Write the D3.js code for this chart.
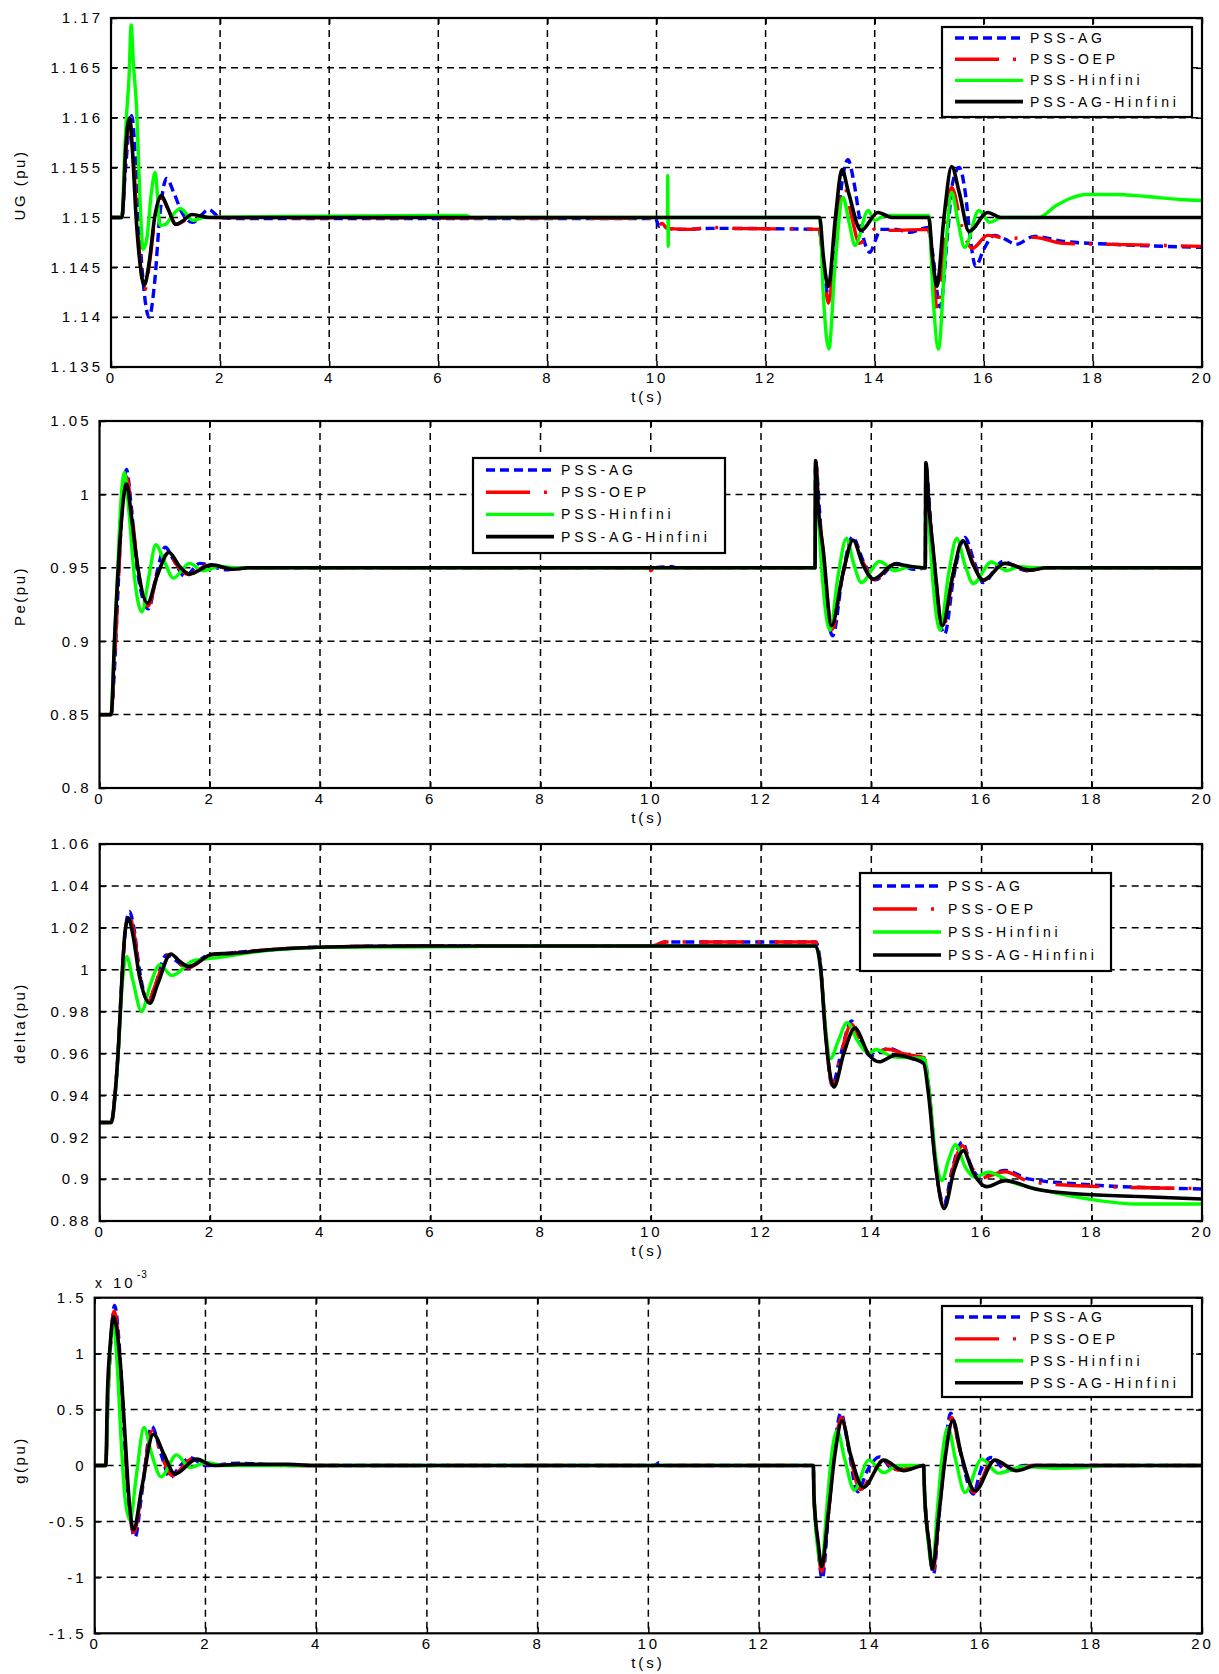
<!DOCTYPE html>
<html>
<head>
<meta charset="utf-8">
<script src="https://cdn.jsdelivr.net/npm/d3@7"></script>
<style>
  html, body { margin: 0; padding: 0; background: #fff; }
  svg text { font-family: "Liberation Sans", Arial, sans-serif; fill: #000; }
</style>
</head>
<body>
<svg id="fig" width="1219" height="1674"></svg>
<script>
// ---- shared axis values ----
const tTicks = [0, 2, 4, 6, 8, 10, 12, 14, 16, 18, 20];
const seriesNames = ["PSS-AG", "PSS-OEP", "PSS-Hinfini", "PSS-AG-Hinfini"];

// ---- generator voltage UG (pu) ----
const ugTicks = [1.135, 1.14, 1.145, 1.15, 1.155, 1.16, 1.165, 1.17];
const ugTickLabels = ["1.135", "1.14", "1.145", "1.15", "1.155", "1.16", "1.165", "1.17"];
const ugAG = [[0,1.15],[0.2,1.15],[0.26,1.1545],[0.38,1.1602],[0.46,1.155],[0.56,1.1455],[0.70,1.140],[0.80,1.1435],[0.9,1.1505],[1.02,1.1539],[1.15,1.1525],[1.3,1.1505],[1.5,1.1495],[1.65,1.1502],[1.79,1.1508],[2.0,1.15],[2.3,1.1499],[6,1.1499],[9.98,1.1499],[10.05,1.1491],[10.12,1.1492],[10.2,1.1489],[10.5,1.1488],[11,1.1489],[12.98,1.1488],[13.05,1.146],[13.16,1.1418],[13.3,1.148],[13.4,1.1535],[13.51,1.1558],[13.62,1.1535],[13.75,1.149],[13.91,1.1465],[14.02,1.1478],[14.1,1.1488],[14.4,1.1488],[14.63,1.1485],[14.98,1.149],[15.06,1.1465],[15.2,1.141],[15.33,1.148],[15.43,1.1535],[15.55,1.155],[15.66,1.1525],[15.75,1.148],[15.85,1.1451],[16.0,1.1468],[16.19,1.1482],[16.4,1.1478],[16.59,1.1473],[16.92,1.1481],[17.46,1.1476],[18.37,1.1473],[20,1.147]];
const ugOEP = [[0,1.15],[0.2,1.15],[0.26,1.1555],[0.34,1.1598],[0.42,1.155],[0.5,1.148],[0.61,1.1426],[0.72,1.146],[0.82,1.1505],[0.92,1.152],[1.05,1.1508],[1.19,1.1493],[1.35,1.1497],[1.5,1.1502],[1.8,1.15],[9.98,1.1499],[10.04,1.1492],[10.1,1.1494],[10.2,1.1489],[10.6,1.1488],[11.0,1.149],[11.4,1.1489],[12.98,1.1488],[13.05,1.146],[13.15,1.1414],[13.28,1.1475],[13.44,1.1531],[13.58,1.150],[13.72,1.1474],[13.9,1.1484],[14.06,1.149],[14.31,1.1487],[14.98,1.1488],[15.05,1.146],[15.15,1.1407],[15.28,1.148],[15.41,1.153],[15.6,1.149],[15.79,1.1469],[16.07,1.1482],[16.44,1.1479],[16.92,1.148],[17.46,1.1474],[18.37,1.1473],[20,1.1471]];
const ugHinf = [[0,1.15],[0.2,1.15],[0.25,1.1565],[0.28,1.1598],[0.33,1.164],[0.37,1.1693],[0.41,1.1655],[0.47,1.1609],[0.53,1.152],[0.59,1.1468],[0.66,1.148],[0.74,1.1525],[0.81,1.1545],[0.9,1.1492],[1.0,1.1493],[1.1,1.150],[1.27,1.1509],[1.51,1.1497],[1.7,1.15],[3,1.1501],[6.5,1.1502],[6.6,1.15],[10.2,1.15],[10.205,1.1542],[10.215,1.1471],[10.22,1.15],[12.99,1.15],[13.06,1.142],[13.16,1.1368],[13.27,1.145],[13.42,1.152],[13.53,1.1495],[13.64,1.1472],[13.88,1.1507],[14.0,1.1497],[14.2,1.1502],[14.99,1.1502],[15.07,1.142],[15.17,1.1368],[15.29,1.146],[15.41,1.1525],[15.53,1.1495],[15.65,1.147],[15.91,1.1507],[16.11,1.1495],[16.33,1.15],[17.0,1.15],[17.33,1.1512],[17.58,1.1519],[17.88,1.1523],[18.37,1.1523],[18.98,1.1521],[19.59,1.1518],[20,1.1517]];
const ugAGHinf = [[0,1.15],[0.2,1.15],[0.23,1.152],[0.26,1.1559],[0.30,1.159],[0.34,1.16],[0.39,1.157],[0.46,1.15],[0.53,1.1455],[0.61,1.1432],[0.7,1.1455],[0.8,1.15],[0.92,1.1522],[1.05,1.1508],[1.19,1.1493],[1.33,1.1497],[1.48,1.1503],[1.8,1.15],[12.99,1.15],[13.06,1.146],[13.15,1.1431],[13.28,1.15],[13.4,1.1548],[13.52,1.1525],[13.75,1.1487],[14.06,1.1505],[14.31,1.15],[14.99,1.15],[15.06,1.146],[15.14,1.1431],[15.27,1.15],[15.41,1.1551],[15.55,1.1525],[15.73,1.1486],[16.07,1.1505],[16.31,1.15],[20,1.15]];

// ---- electrical power Pe (pu) ----
const peTicks = [0.8, 0.85, 0.9, 0.95, 1, 1.05];
const peTickLabels = ["0.8", "0.85", "0.9", "0.95", "1", "1.05"];
const peAG = [[0,0.85],[0.21,0.85],[0.27,0.88],[0.33,0.93],[0.4,0.985],[0.49,1.017],[0.58,0.99],[0.7,0.945],[0.89,0.922],[1.03,0.945],[1.19,0.964],[1.35,0.955],[1.55,0.944],[1.82,0.953],[2.31,0.9487],[2.6,0.95],[9.98,0.95],[10.0,0.9485],[10.05,0.95],[10.4,0.9507],[10.45,0.95],[12.98,0.95],[12.99,1.022],[13.06,0.99],[13.15,0.94],[13.3,0.9037],[13.48,0.945],[13.66,0.971],[13.85,0.955],[14.07,0.9418],[14.46,0.953],[14.77,0.949],[14.98,0.95],[14.99,1.02],[15.06,0.99],[15.16,0.94],[15.33,0.9048],[15.5,0.945],[15.7,0.9707],[15.86,0.955],[16.03,0.94],[16.39,0.9543],[16.82,0.948],[17.1,0.95],[20,0.95]];
const peOEP = [[0,0.85],[0.21,0.85],[0.27,0.885],[0.33,0.93],[0.4,0.985],[0.49,1.012],[0.58,0.99],[0.7,0.948],[0.88,0.924],[1.05,0.945],[1.24,0.961],[1.4,0.952],[1.6,0.9455],[2.0,0.952],[2.4,0.949],[2.7,0.95],[9.98,0.95],[10.0,0.948],[10.05,0.95],[12.98,0.95],[12.99,1.023],[13.05,0.99],[13.13,0.96],[13.29,0.908],[13.48,0.945],[13.67,0.969],[13.85,0.954],[14.05,0.942],[14.44,0.953],[14.75,0.95],[14.98,0.95],[14.99,1.021],[15.05,0.99],[15.13,0.96],[15.3,0.908],[15.48,0.945],[15.67,0.969],[15.85,0.953],[16.03,0.9415],[16.41,0.9535],[16.85,0.9484],[17.15,0.95],[20,0.95]];
const peHinf = [[0,0.85],[0.21,0.85],[0.26,0.89],[0.32,0.94],[0.38,0.99],[0.45,1.015],[0.53,0.99],[0.63,0.945],[0.77,0.92],[0.9,0.945],[1.02,0.9657],[1.17,0.955],[1.34,0.943],[1.63,0.953],[1.88,0.948],[2.19,0.951],[2.5,0.95],[12.98,0.95],[12.99,1.018],[13.04,0.985],[13.12,0.94],[13.25,0.9075],[13.4,0.945],[13.55,0.97],[13.68,0.953],[13.82,0.94],[14.15,0.9543],[14.43,0.948],[14.7,0.9507],[14.98,0.95],[14.99,1.018],[15.04,0.985],[15.12,0.94],[15.25,0.9075],[15.4,0.945],[15.55,0.97],[15.7,0.952],[15.85,0.9393],[16.18,0.954],[16.45,0.948],[16.69,0.9507],[17.0,0.95],[20,0.95]];
const peAGHinf = [[0,0.85],[0.21,0.85],[0.28,0.907],[0.37,0.968],[0.49,1.007],[0.58,0.985],[0.67,0.957],[0.87,0.926],[1.05,0.945],[1.26,0.9605],[1.45,0.951],[1.63,0.9457],[2.03,0.952],[2.43,0.949],[2.7,0.95],[12.98,0.95],[12.99,1.023],[13.04,0.991],[13.13,0.9616],[13.28,0.9105],[13.48,0.945],[13.67,0.9688],[13.85,0.952],[14.04,0.9423],[14.43,0.9525],[14.7,0.951],[14.98,0.95],[14.99,1.0217],[15.05,0.99],[15.13,0.96],[15.29,0.9105],[15.48,0.945],[15.66,0.9684],[15.85,0.952],[16.03,0.9416],[16.42,0.953],[16.88,0.9484],[17.18,0.95],[20,0.95]];

// ---- rotor angle delta (pu) ----
const deltaTicks = [0.88, 0.9, 0.92, 0.94, 0.96, 0.98, 1, 1.02, 1.04, 1.06];
const deltaTickLabels = ["0.88", "0.9", "0.92", "0.94", "0.96", "0.98", "1", "1.02", "1.04", "1.06"];
const deltaAG = [[0,0.927],[0.21,0.927],[0.28,0.941],[0.34,0.963],[0.40,0.995],[0.47,1.02],[0.54,1.0278],[0.62,1.02],[0.72,1.0],[0.88,0.9847],[1.0,0.992],[1.21,1.007],[1.4,1.004],[1.58,1.0007],[1.94,1.0066],[2.2,1.0075],[3.03,1.0094],[3.93,1.0107],[5.8,1.0113],[10.0,1.0113],[10.1,1.0118],[10.25,1.0132],[12.99,1.0132],[13.08,1.002],[13.17,0.97],[13.29,0.9448],[13.45,0.96],[13.64,0.9755],[13.8,0.966],[13.98,0.959],[14.32,0.9624],[14.63,0.9592],[14.96,0.9576],[15.05,0.942],[15.17,0.906],[15.32,0.8881],[15.47,0.905],[15.65,0.9177],[15.8,0.907],[15.97,0.9009],[16.43,0.9041],[16.85,0.9001],[17.76,0.8977],[20,0.8953]];
const deltaOEP = [[0,0.927],[0.21,0.927],[0.28,0.941],[0.34,0.963],[0.40,0.995],[0.47,1.02],[0.53,1.026],[0.62,1.018],[0.72,0.999],[0.89,0.985],[1.0,0.992],[1.25,1.007],[1.4,1.004],[1.6,1.001],[2.0,1.0068],[2.2,1.0075],[3.03,1.0094],[3.93,1.0107],[5.8,1.0113],[10.0,1.0113],[10.1,1.0118],[10.25,1.0132],[12.99,1.0132],[13.08,1.002],[13.17,0.97],[13.3,0.9445],[13.45,0.96],[13.64,0.974],[13.8,0.966],[13.98,0.96],[14.3,0.962],[14.63,0.9595],[14.96,0.958],[15.05,0.942],[15.17,0.906],[15.32,0.887],[15.47,0.904],[15.66,0.916],[15.8,0.907],[15.97,0.9005],[16.43,0.9035],[16.85,0.899],[17.76,0.8968],[20,0.8955]];
const deltaHinf = [[0,0.927],[0.21,0.927],[0.28,0.94],[0.34,0.962],[0.40,0.99],[0.49,1.0062],[0.6,0.995],[0.76,0.98],[0.92,0.993],[1.09,1.0023],[1.31,0.9972],[1.7,1.0043],[2.06,1.0055],[3.03,1.0091],[4.24,1.0107],[6.8,1.011],[7.0,1.0113],[12.99,1.0113],[13.08,1.0],[13.17,0.972],[13.26,0.9576],[13.4,0.966],[13.56,0.9747],[13.75,0.966],[13.96,0.96],[14.08,0.9619],[14.4,0.9584],[14.96,0.9576],[15.05,0.942],[15.17,0.91],[15.28,0.8993],[15.4,0.909],[15.53,0.9164],[15.7,0.906],[15.88,0.9009],[16.12,0.9033],[16.55,0.8985],[17.15,0.8945],[17.94,0.8905],[18.85,0.8881],[20,0.8881]];
const deltaAGHinf = [[0,0.927],[0.21,0.927],[0.28,0.9409],[0.34,0.9632],[0.40,0.9935],[0.46,1.018],[0.52,1.0246],[0.6,1.017],[0.72,0.997],[0.91,0.984],[1.05,0.993],[1.29,1.0075],[1.45,1.004],[1.61,1.0015],[2.06,1.0075],[2.42,1.0078],[3.03,1.0094],[3.93,1.0107],[5.81,1.0113],[12.99,1.0113],[13.08,1.0006],[13.17,0.9688],[13.32,0.944],[13.5,0.96],[13.7,0.972],[13.96,0.9592],[14.14,0.956],[14.44,0.9592],[14.74,0.9576],[14.95,0.9552],[15.04,0.94],[15.16,0.9081],[15.32,0.886],[15.5,0.904],[15.67,0.9136],[15.85,0.903],[16.09,0.8964],[16.43,0.8993],[16.97,0.8953],[17.76,0.8929],[18.97,0.8916],[20,0.8905]];

// ---- speed deviation g (pu, x 10^-3) ----
const gTicks = [-1.5, -1, -0.5, 0, 0.5, 1, 1.5];
const gTickLabels = ["-1.5", "-1", "-0.5", "0", "0.5", "1", "1.5"];
const gAG = [[0,0],[0.2,0],[0.24,0.6],[0.29,1.1],[0.36,1.43],[0.44,1.1],[0.52,0.4],[0.6,-0.25],[0.73,-0.64],[0.85,-0.25],[1.03,0.35],[1.2,0.1],[1.36,-0.107],[1.55,0.0],[1.72,0.07],[2.0,0.0],[2.6,0.02],[3.5,0.0],[10.1,0],[10.2,0.025],[10.3,0.0],[12.98,0],[12.99,-0.25],[13.06,-0.7],[13.14,-1.01],[13.25,-0.45],[13.35,0.1],[13.48,0.47],[13.6,0.2],[13.78,-0.235],[13.95,-0.05],[14.18,0.077],[14.42,-0.033],[14.7,-0.03],[14.97,0],[14.99,-0.25],[15.07,-0.7],[15.15,-0.97],[15.25,-0.45],[15.35,0.1],[15.46,0.467],[15.6,0.2],[15.87,-0.256],[16.0,-0.05],[16.2,0.071],[16.47,-0.047],[16.8,0],[20,0]];
const gOEP = [[0,0],[0.2,0],[0.24,0.62],[0.29,1.1],[0.35,1.38],[0.45,1.0],[0.53,0.35],[0.6,-0.25],[0.71,-0.6],[0.85,-0.22],[1.04,0.31],[1.2,0.1],[1.4,-0.09],[1.78,0.065],[2.1,0],[2.6,0.01],[3.5,0],[10.1,0],[10.2,0.02],[10.35,0],[12.98,0],[12.99,-0.25],[13.06,-0.7],[13.13,-0.95],[13.25,-0.44],[13.36,0.1],[13.49,0.43],[13.62,0.15],[13.83,-0.215],[14.2,0.06],[14.5,-0.04],[14.97,0],[14.99,-0.25],[15.07,-0.7],[15.14,-0.95],[15.25,-0.44],[15.36,0.1],[15.48,0.43],[15.62,0.15],[15.88,-0.24],[16.23,0.06],[16.55,-0.045],[16.9,0],[20,0]];
const gHinf = [[0,0],[0.2,0],[0.24,0.6],[0.28,1.05],[0.33,1.29],[0.4,0.95],[0.48,0.2],[0.55,-0.3],[0.64,-0.49],[0.75,-0.1],[0.89,0.34],[1.03,0.1],[1.2,-0.1],[1.48,0.095],[1.72,-0.018],[2.02,0.027],[2.3,0],[12.98,0],[12.99,-0.25],[13.05,-0.7],[13.13,-0.9],[13.22,-0.4],[13.3,0.05],[13.41,0.31],[13.55,0.05],[13.72,-0.22],[13.98,0.048],[14.25,-0.063],[14.5,0],[14.97,0],[14.99,-0.25],[15.06,-0.7],[15.13,-0.92],[15.22,-0.4],[15.3,0.05],[15.41,0.34],[15.55,0.05],[15.72,-0.24],[16.02,0.057],[16.32,-0.068],[16.77,-0.01],[17.32,-0.024],[17.8,-0.02],[18.3,0],[20,0]];
const gAGHinf = [[0,0],[0.2,0],[0.23,0.64],[0.28,1.08],[0.34,1.33],[0.46,0.93],[0.55,0.25],[0.62,-0.3],[0.7,-0.577],[0.85,-0.2],[1.06,0.28],[1.25,0.1],[1.45,-0.077],[1.84,0.057],[2.14,0],[2.6,0.01],[3.5,0.01],[4,0],[12.98,0],[12.99,-0.256],[13.07,-0.7],[13.13,-0.905],[13.25,-0.43],[13.37,0.1],[13.5,0.4],[13.65,0.1],[13.88,-0.196],[14.25,0.048],[14.61,-0.047],[14.97,0],[14.99,-0.26],[15.07,-0.7],[15.13,-0.925],[15.25,-0.43],[15.37,0.1],[15.5,0.405],[15.65,0.1],[15.9,-0.226],[16.26,0.048],[16.65,-0.047],[17.0,0],[20,0]];

// ---- drawing ----
const svg = d3.select("#fig");
svg.append("rect").attr("width", 1219).attr("height", 1674).attr("fill", "#fff");

// line styles for the four controllers, in legend order
const styles = [
  { color: "#0000ff", dash: "9,5", width: 3.4 },
  { color: "#ff0000", dash: "44,14,3,14", width: 3.4 },
  { color: "#00ff00", dash: null, width: 3.4 },
  { color: "#000000", dash: null, width: 3.6 }
];

function drawPanel(p) {
  const x = d3.scaleLinear().domain([0, 20]).range([p.left, p.right]);
  const y = d3.scaleLinear().domain([p.ticks[0], p.ticks[p.ticks.length - 1]]).range([p.bottom, p.top]);
  const g = svg.append("g");

  // dashed grid
  const grid = g.append("g").attr("stroke", "#000").attr("stroke-width", 1.5).attr("stroke-dasharray", "7,5");
  grid.selectAll("line.v").data(tTicks.slice(1, -1)).join("line").attr("class", "v")
    .attr("x1", d => x(d)).attr("x2", d => x(d)).attr("y1", p.top).attr("y2", p.bottom);
  grid.selectAll("line.h").data(p.ticks.slice(1, -1)).join("line").attr("class", "h")
    .attr("x1", p.left).attr("x2", p.right).attr("y1", d => y(d)).attr("y2", d => y(d));

  // curves
  const line = d3.line().x(d => x(d[0])).y(d => y(d[1])).curve(d3.curveMonotoneX);
  p.series.forEach((s, i) => {
    const st = styles[i];
    g.append("path").attr("d", line(s)).attr("fill", "none")
      .attr("stroke", st.color).attr("stroke-width", st.width)
      .attr("stroke-linejoin", "round")
      .attr("stroke-dasharray", st.dash);
  });

  // axes with inward ticks on all four sides
  const fmt = d => p.labels[p.ticks.indexOf(d)];
  g.append("g").attr("transform", `translate(0,${p.bottom})`)
    .call(d3.axisBottom(x).tickValues(tTicks).tickSizeInner(-6).tickSizeOuter(0).tickPadding(5));
  g.append("g").attr("transform", `translate(${p.left},0)`)
    .call(d3.axisLeft(y).tickValues(p.ticks).tickFormat(fmt).tickSizeInner(-6).tickSizeOuter(0).tickPadding(8));
  g.append("g").attr("transform", `translate(0,${p.top})`)
    .call(d3.axisTop(x).tickValues(tTicks).tickFormat("").tickSizeInner(-6).tickSizeOuter(0));
  g.append("g").attr("transform", `translate(${p.right},0)`)
    .call(d3.axisRight(y).tickValues(p.ticks).tickFormat("").tickSizeInner(-6).tickSizeOuter(0));
  g.selectAll(".domain").remove();
  g.selectAll(".tick line").attr("stroke", "#000").attr("stroke-width", 1.5);
  g.selectAll(".tick text").attr("font-size", 15).attr("letter-spacing", 3)
    .attr("font-family", '"Liberation Sans", Arial, sans-serif').attr("fill", "#000");

  // frame
  g.append("rect").attr("x", p.left).attr("y", p.top)
    .attr("width", p.right - p.left).attr("height", p.bottom - p.top)
    .attr("fill", "none").attr("stroke", "#000").attr("stroke-width", 2.2);

  // axis titles
  g.append("text").attr("x", 648).attr("y", p.bottom + 35).attr("text-anchor", "middle")
    .attr("font-size", 15).attr("letter-spacing", 3).text("t(s)");
  g.append("text").attr("transform", `translate(19,${p.yTitleY}) rotate(-90)`)
    .attr("text-anchor", "middle").attr("dominant-baseline", "central")
    .attr("font-size", 15).attr("letter-spacing", 2.5).text(p.yTitle);

  // legend
  const L = p.legend;
  const lg = g.append("g");
  lg.append("rect").attr("x", L.x).attr("y", L.y).attr("width", L.w).attr("height", L.h)
    .attr("fill", "#fff").attr("stroke", "#000").attr("stroke-width", 2.2);
  seriesNames.forEach((name, i) => {
    const cy = L.y + L.row0 + i * L.step;
    const st = styles[i];
    lg.append("line").attr("x1", L.x + 13).attr("x2", L.x + 81).attr("y1", cy).attr("y2", cy)
      .attr("stroke", st.color).attr("stroke-width", st.width).attr("stroke-dasharray", st.dash);
    lg.append("text").attr("x", L.x + 88).attr("y", cy + 5).attr("font-size", 14)
      .attr("letter-spacing", 3.8).text(name);
  });
  return { x, y, g };
}

drawPanel({
  left: 111, right: 1202, top: 18, bottom: 367,
  ticks: ugTicks, labels: ugTickLabels,
  series: [ugAG, ugOEP, ugHinf, ugAGHinf],
  yTitle: "UG (pu)", yTitleY: 185,
  legend: { x: 942, y: 27, w: 250, h: 90, row0: 11, step: 21.2 }
});
drawPanel({
  left: 99.5, right: 1202, top: 421, bottom: 788,
  ticks: peTicks, labels: peTickLabels,
  series: [peAG, peOEP, peHinf, peAGHinf],
  yTitle: "Pe(pu)", yTitleY: 596,
  legend: { x: 473, y: 458, w: 252, h: 95, row0: 12, step: 22.2 }
});
drawPanel({
  left: 99.7, right: 1202, top: 844, bottom: 1221,
  ticks: deltaTicks, labels: deltaTickLabels,
  series: [deltaAG, deltaOEP, deltaHinf, deltaAGHinf],
  yTitle: "delta(pu)", yTitleY: 1023,
  legend: { x: 860, y: 873, w: 251, h: 98, row0: 13, step: 23 }
});
drawPanel({
  left: 94.7, right: 1202, top: 1297.7, bottom: 1633.3,
  ticks: gTicks, labels: gTickLabels,
  series: [gAG, gOEP, gHinf, gAGHinf],
  yTitle: "g(pu)", yTitleY: 1460,
  legend: { x: 942, y: 1306, w: 250, h: 91, row0: 11, step: 21.9 }
});

// exponent note above the g axis
svg.append("text").attr("x", 95).attr("y", 1288).attr("font-size", 14).text("x");
svg.append("text").attr("x", 113).attr("y", 1288).attr("font-size", 15).attr("letter-spacing", 3).text("10");
svg.append("text").attr("x", 137).attr("y", 1278).attr("font-size", 10).attr("letter-spacing", 1).text("-3");
</script>
</body>
</html>
